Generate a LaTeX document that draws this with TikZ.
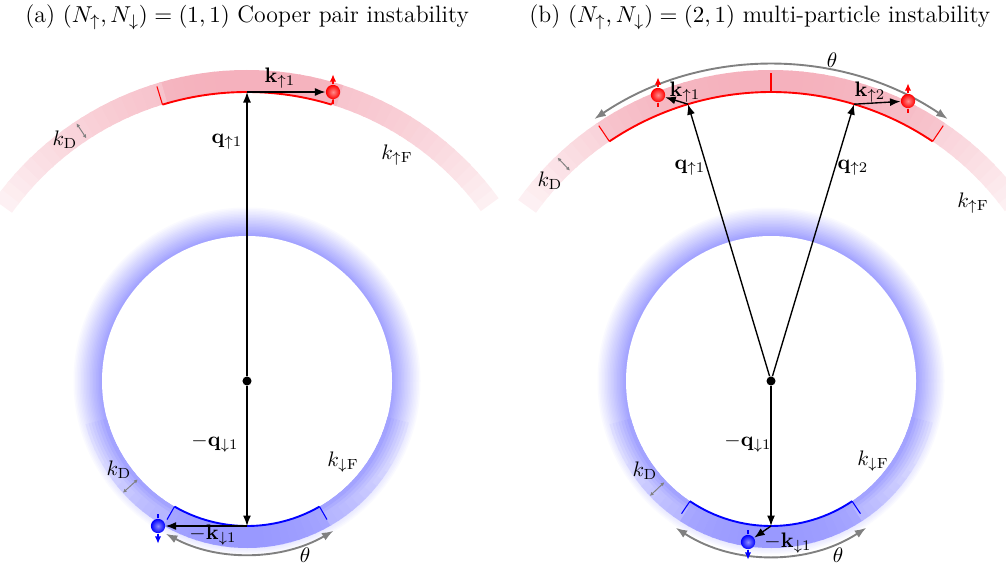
\documentclass[tikz,border=0pt]{standalone}
\usetikzlibrary{arrows.meta}
\definecolor{shellred}{RGB}{225,25,60}
\begin{document}
\begin{tikzpicture}[x=0.476pt,y=0.476pt,
vec/.style={-{Latex[length=5pt,width=3.8pt]},line width=0.65pt},
gvec/.style={{Latex[length=5.5pt,width=4pt]}-{Latex[length=5.5pt,width=4pt]},gray,line width=0.9pt},
kd/.style={{Latex[length=1.8pt,width=1.8pt]}-{Latex[length=1.8pt,width=1.8pt]},gray,line width=0.45pt},
dot/.style={circle,fill=black,inner sep=0pt,minimum size=4.3pt},
upspin/.style={circle,inner sep=0pt,minimum size=6.8pt,inner color=red!45!white,outer color=red},
downspin/.style={circle,inner sep=0pt,minimum size=6.8pt,inner color=blue!45!white,outer color=blue},
spin/.style={line width=0.55pt},
tip/.style={spin,-{Latex[length=3.4pt,width=3pt]}},
title/.style={anchor=west,font=\fontsize{11.3}{13}\selectfont}]

\useasboundingbox (0,0) rectangle (1006,566);

% shells for both panels
\foreach \cx/\hr/\hb in {247/17/30, 771/34/34}{
\begin{scope}[shift={(\cx,185)}]
\foreach \a in {36,38,...,142}{
\pgfmathsetmacro\d{(\a+1.2-90)/56}
\pgfmathsetmacro\p{24*(1-\d*\d)+4+((abs(\a+1.2-90)<\hr) ? 6 : 0)}
\fill[shellred!\p!white] (\a:289) arc (\a:\a+2.4:289) -- (\a+2.4:311) arc (\a+2.4:\a:311) -- cycle;
}
\foreach \r in {175,173.5,...,146.5}{
\pgfmathsetmacro\p{36*(175-\r)/28.5}
\fill[blue!\p!white] (0,0) circle (\r);
}
\fill[white] (0,0) circle (145);
\foreach \a in {195,198,...,342}{
\foreach \r in {163,160,...,145}{
\pgfmathsetmacro\d{(\a+1.5-270)/80}
\pgfmathsetmacro\p{max(36*(175-\r-1.5)/28.5, 34*(1-\d*\d)+((abs(\a+1.5-270)<\hb) ? 6 : 0))}
\fill[blue!\p!white] (\a:\r) arc (\a:\a+3.6:\r) -- (\a+3.6:\r+4) arc (\a+3.6:\a:\r+4) -- cycle;
}
}
\end{scope}
}

% (a)
\node[title] (titlea) at (18,549) {(a) $(N_\uparrow,N_\downarrow)=(1,1)$ Cooper pair instability};
\begin{scope}[shift={(247,185)}]
\draw[red,line width=0.9pt] (73:289) arc (73:107:289);
\foreach \a in {73,107}{
\draw[red,line width=0.5pt] (\a:289) -- (\a:308);
}
\draw[blue,line width=0.9pt] (240:145) arc (240:300:145);
\foreach \a in {240,300}{
\draw[blue,line width=0.5pt] (\a:145) -- (\a:160);
}
\draw[gvec] (242:173) arc (242:300:173);
\draw[kd] (123.5:291) -- (123.5:309);
\draw[kd] (222:147) -- (222:167);

\node[dot] (ca) at (0,0) {};
\coordinate (ta) at (90:289);
\coordinate (ba) at (270:145);
\node[upspin] (eua) at (86,289) {};
\node[downspin] (eda) at (-89,-145) {};
\draw[tip,red] (eua.north) -- ++(0,10);
\draw[spin,red] (eua.south) -- ++(0,-4);
\draw[spin,blue] (eda.north) -- ++(0,4);
\draw[tip,blue] (eda.south) -- ++(0,-10);

\draw[vec] (ca) -- (ta);
\draw[vec] (ca) -- (ba);
\draw[vec] (ta) -- (eua);
\draw[vec] (ba) -- (eda);

\node (kua) at (33,303) {$\mathbf{k}_{\uparrow 1}$};
\node (qua) at (-20,239) {$\mathbf{q}_{\uparrow 1}$};
\node (kdua) at (-182,241) {$k_\mathrm{D}$};
\node (kfua) at (150,226) {$k_{\uparrow\mathrm{F}}$};
\node (qda) at (-32,-62) {$-\mathbf{q}_{\downarrow 1}$};
\node (kda) at (-34,-154) {$-\mathbf{k}_{\downarrow 1}$};
\node (kfda) at (96,-81) {$k_{\downarrow\mathrm{F}}$};
\node (kdda) at (-128,-89) {$k_\mathrm{D}$};
\node (tha) at (58,-174) {$\theta$};
\end{scope}

% (b)
\node[title] (titleb) at (522,549) {(b) $(N_\uparrow,N_\downarrow)=(2,1)$ multi-particle instability};
\begin{scope}[shift={(771,185)}]
\draw[red,line width=0.9pt] (56:289) arc (56:124:289);
\foreach \a in {56,90,124}{
\draw[red,line width=0.5pt] (\a:289) -- (\a:308);
}
\draw[blue,line width=0.9pt] (236:145) arc (236:304:145);
\foreach \a in {236,304}{
\draw[blue,line width=0.5pt] (\a:145) -- (\a:160);
}
\draw[gvec] (124:316) arc (124:56:316);
\draw[gvec] (237:175) arc (237:303:175);
\draw[kd] (133.7:291) -- (133.7:309);
\draw[kd] (223.5:147) -- (223.5:167);

\node[dot] (cb) at (0,0) {};
\coordinate (tb1) at (106.7:289);
\coordinate (tb2) at (73.3:289);
\coordinate (bb) at (270:145);
\node[upspin] (eub1) at (-113,286) {};
\node[upspin] (eub2) at (137,280) {};
\node[downspin] (edb) at (-23,-161) {};
\foreach \e in {eub1,eub2}{
\draw[tip,red] (\e.north) -- ++(0,10);
\draw[spin,red] (\e.south) -- ++(0,-4);
}
\draw[spin,blue] (edb.north) -- ++(0,4);
\draw[tip,blue] (edb.south) -- ++(0,-10);

\draw[vec] (cb) -- (tb1);
\draw[vec] (cb) -- (tb2);
\draw[vec] (cb) -- (bb);
\draw[vec] (tb1) -- (eub1);
\draw[vec] (tb2) -- (eub2);
\draw[vec] (bb) -- (edb);

\node (kub1) at (-86,289) {$\mathbf{k}_{\uparrow 1}$};
\node (kub2) at (99,289) {$\mathbf{k}_{\uparrow 2}$};
\node (qub1) at (-81,213) {$\mathbf{q}_{\uparrow 1}$};
\node (qub2) at (82,213) {$\mathbf{q}_{\uparrow 2}$};
\node (kdub) at (-221,200) {$k_\mathrm{D}$};
\node (kfub) at (202,178) {$k_{\uparrow\mathrm{F}}$};
\node (thub) at (61,321) {$\theta$};
\node (qdb) at (-23,-62) {$-\mathbf{q}_{\downarrow 1}$};
\node (kdb) at (17,-162) {$-\mathbf{k}_{\downarrow 1}$};
\node (kfdb) at (102,-80) {$k_{\downarrow\mathrm{F}}$};
\node (kddb) at (-126,-90) {$k_\mathrm{D}$};
\node (thdb) at (67,-174) {$\theta$};
\end{scope}

\end{tikzpicture}
\end{document}
